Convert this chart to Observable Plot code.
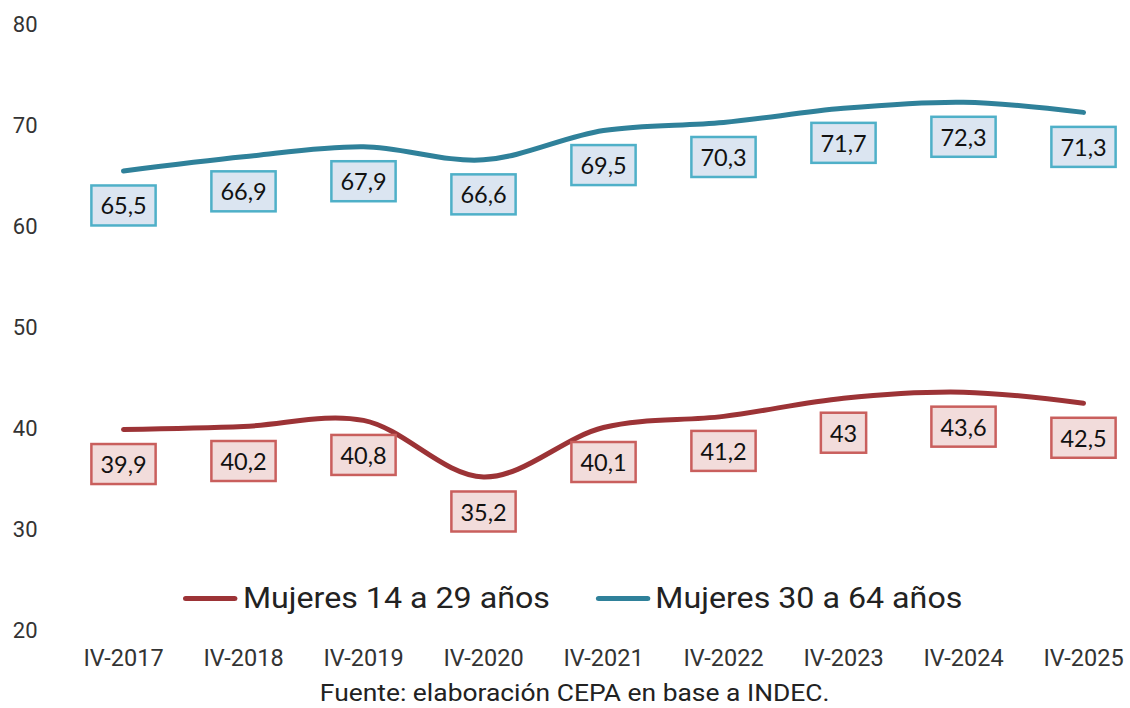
<!DOCTYPE html>
<html><head><meta charset="utf-8">
<script src="https://cdn.jsdelivr.net/npm/d3@7"></script>
<script src="https://cdn.jsdelivr.net/npm/@observablehq/plot@0.6"></script>
<style>
body{margin:0;background:#fff;}
#wrap{position:relative;width:1130px;height:708px;overflow:hidden;font-family:Roboto,sans-serif;}
#legend{position:absolute;top:581px;left:183px;display:flex;align-items:center;font-size:29px;color:#222;white-space:nowrap;transform:scaleX(1.11);transform-origin:0 50%;}
#legend .item{display:flex;align-items:center;margin-right:41px;}
#legend .sw{width:49px;height:5px;border-radius:3px;margin-right:5px;}
#footer{position:absolute;top:679px;left:0;width:1130px;text-align:center;font-size:24px;color:#222;line-height:28px;padding-left:20px;box-sizing:border-box;}
#footer span{display:inline-block;transform:scaleX(1.1);}
</style></head><body><div id="wrap"></div>
<script>
const periods = ["IV-2017","IV-2018","IV-2019","IV-2020","IV-2021","IV-2022","IV-2023","IV-2024","IV-2025"];
const young = [39.9, 40.2, 40.8, 35.2, 40.1, 41.2, 43, 43.6, 42.5];
const adult = [65.5, 66.9, 67.9, 66.6, 69.5, 70.3, 71.7, 72.3, 71.3];
const seriesNames = ["Mujeres 14 a 29 años", "Mujeres 30 a 64 años"];
const yTicks = [20, 30, 40, 50, 60, 70, 80];
const lineColors = ["#9c3336", "#2f819a"];
const boxFill = ["#f2dcdb", "#dbe5f1"];
const boxStroke = ["#c95f5d", "#4fb0c8"];
const footerText = "Fuente: elaboración CEPA en base a INDEC.";

const seriesValues = [young, adult];
const data = seriesValues.flatMap((vals, s) => periods.map((p, i) => ({period: p, value: vals[i], s: seriesNames[s]})));
const fmt = v => String(v).replace(".", ",");

const plot = Plot.plot({
  width: 1130, height: 680,
  marginTop: 24, marginBottom: 50, marginLeft: 40, marginRight: 20,
  style: {fontFamily: "Roboto", fontSize: "22px", color: "#333", background: "white"},
  x: {type: "point", domain: periods, range: [120, 1086], padding: 0, label: null},
  y: {domain: [20, 80], label: null},
  color: {domain: seriesNames, range: lineColors},
  marks: [
    Plot.axisY({ticks: yTicks, tickSize: 0, tickPadding: 3, fontSize: 22, label: null, fill: "#333", tickFormat: d => d}),
    Plot.axisX({tickSize: 0, tickPadding: 19, fontSize: 23.5, label: null, fill: "#333"}),
    Plot.line(data, {x: "period", y: "value", z: "s", stroke: "s", strokeWidth: 5, curve: "catmull-rom", strokeLinecap: "round"}),
    ...seriesNames.map(name => Plot.text(data.filter(d => d.s === name), {x: "period", y: "value", text: d => fmt(d.value), dy: 36, fontSize: 23.5, fontFamily: "Lato", fill: "#111"}))
  ]
});

const wrap = document.getElementById("wrap");
wrap.appendChild(plot);

// label boxes behind the value labels
const groups = plot.querySelectorAll('g[aria-label="text"]');
groups.forEach((g, s) => {
  g.querySelectorAll("text").forEach(t => {
    const bb = t.getBBox();
    const r = document.createElementNS("http://www.w3.org/2000/svg", "rect");
    const h = 40, w = bb.width + 18;
    const cy = bb.y + bb.height / 2;
    r.setAttribute("x", bb.x + bb.width / 2 - w / 2);
    r.setAttribute("y", cy - h / 2);
    r.setAttribute("width", w);
    r.setAttribute("height", h);
    r.setAttribute("fill", boxFill[s]);
    r.setAttribute("stroke", boxStroke[s]);
    r.setAttribute("stroke-width", 2.5);
    if (t.getAttribute("transform")) r.setAttribute("transform", t.getAttribute("transform"));
    g.insertBefore(r, t);
  });
});

// legend
const legend = document.createElement("div");
legend.id = "legend";
seriesNames.forEach((name, i) => {
  const item = document.createElement("div");
  item.className = "item";
  const sw = document.createElement("div");
  sw.className = "sw";
  sw.style.background = lineColors[i];
  const lab = document.createElement("span");
  lab.textContent = name;
  item.appendChild(sw); item.appendChild(lab);
  legend.appendChild(item);
});
wrap.appendChild(legend);

const footer = document.createElement("div");
footer.id = "footer";
const fs = document.createElement("span");
fs.textContent = footerText;
footer.appendChild(fs);
wrap.appendChild(footer);
</script>
</body></html>
